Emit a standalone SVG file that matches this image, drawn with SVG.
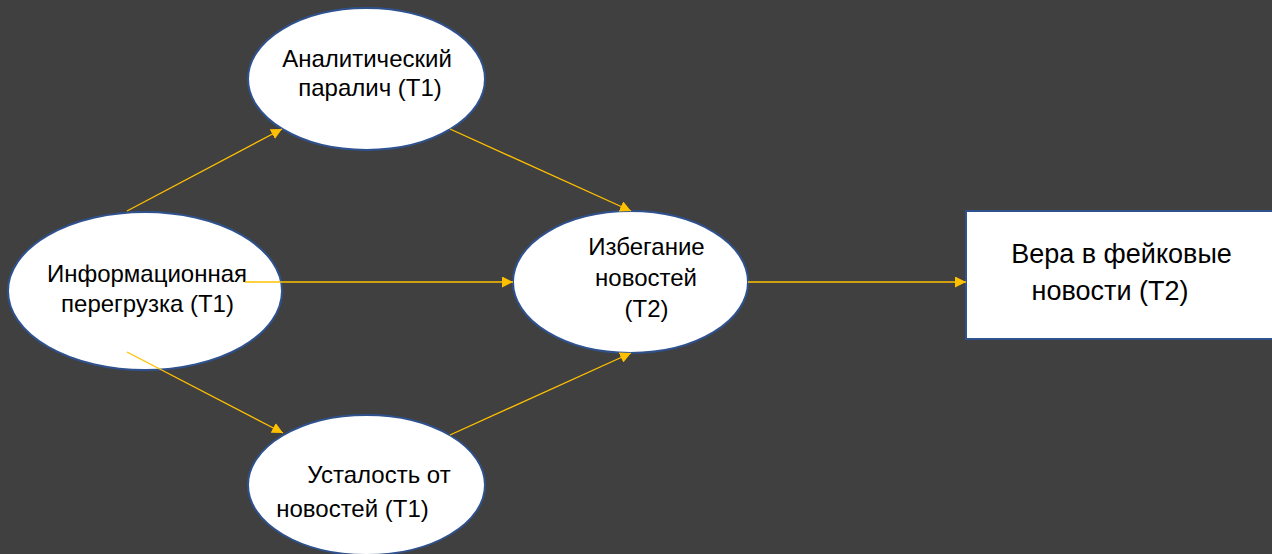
<svg xmlns="http://www.w3.org/2000/svg" width="1272" height="554" viewBox="0 0 1272 554">
<style>
.node{fill:#ffffff;stroke:#2F528F;stroke-width:2}
.lbl{font-family:"Liberation Sans",Arial,sans-serif;font-size:24px;fill:#000000;text-anchor:middle}
.big{font-size:27px}
.edge{stroke:#FFC000;stroke-width:1.3;fill:none}
</style>
<defs>
<marker id="arr" viewBox="0 0 10 10" refX="10" refY="5" markerWidth="11" markerHeight="11" markerUnits="userSpaceOnUse" orient="auto">
<path d="M0,0 L10,5 L0,10 Z" fill="#FFC000"/>
</marker>
</defs>
<rect x="0" y="0" width="1272" height="554" fill="#404040"/>
<g id="n-overload">
<ellipse class="node" cx="145" cy="291" rx="137" ry="79"/>
<text class="lbl" x="147" y="282">Информационная</text>
<text class="lbl" x="147.5" y="312">перегрузка (Т1)</text>
</g>
<g id="n-paralysis">
<ellipse class="node" cx="366.5" cy="79" rx="118.5" ry="71"/>
<text class="lbl" x="367" y="67">Аналитический</text>
<text class="lbl" x="370" y="96">паралич (Т1)</text>
</g>
<g id="n-avoidance">
<ellipse class="node" cx="630.5" cy="282" rx="117.5" ry="71"/>
<text class="lbl" x="646.5" y="255">Избегание</text>
<text class="lbl" x="646" y="286">новостей</text>
<text class="lbl" x="646.5" y="317">(Т2)</text>
</g>
<g id="n-fatigue">
<ellipse class="node" cx="366.5" cy="485" rx="118.5" ry="70"/>
<text class="lbl" x="379" y="483">Усталость от</text>
<text class="lbl" x="352.5" y="517">новостей (Т1)</text>
</g>
<g id="n-belief">
<rect class="node" x="966" y="211" width="320" height="128"/>
<text class="lbl big" x="1121.5" y="263">Вера в фейковые</text>
<text class="lbl big" x="1110" y="300">новости (Т2)</text>
</g>
<g id="connectors">
<line class="edge" x1="127" y1="211" x2="282" y2="129" marker-end="url(#arr)"/>
<line class="edge" x1="450" y1="129" x2="631" y2="211" marker-end="url(#arr)"/>
<line class="edge" x1="245" y1="282" x2="513" y2="282" marker-end="url(#arr)"/>
<line class="edge" x1="127" y1="352" x2="283" y2="433" marker-end="url(#arr)"/>
<line class="edge" x1="450" y1="435" x2="631" y2="353" marker-end="url(#arr)"/>
<line class="edge" x1="748" y1="282" x2="966" y2="282" marker-end="url(#arr)"/>
</g>
</svg>
